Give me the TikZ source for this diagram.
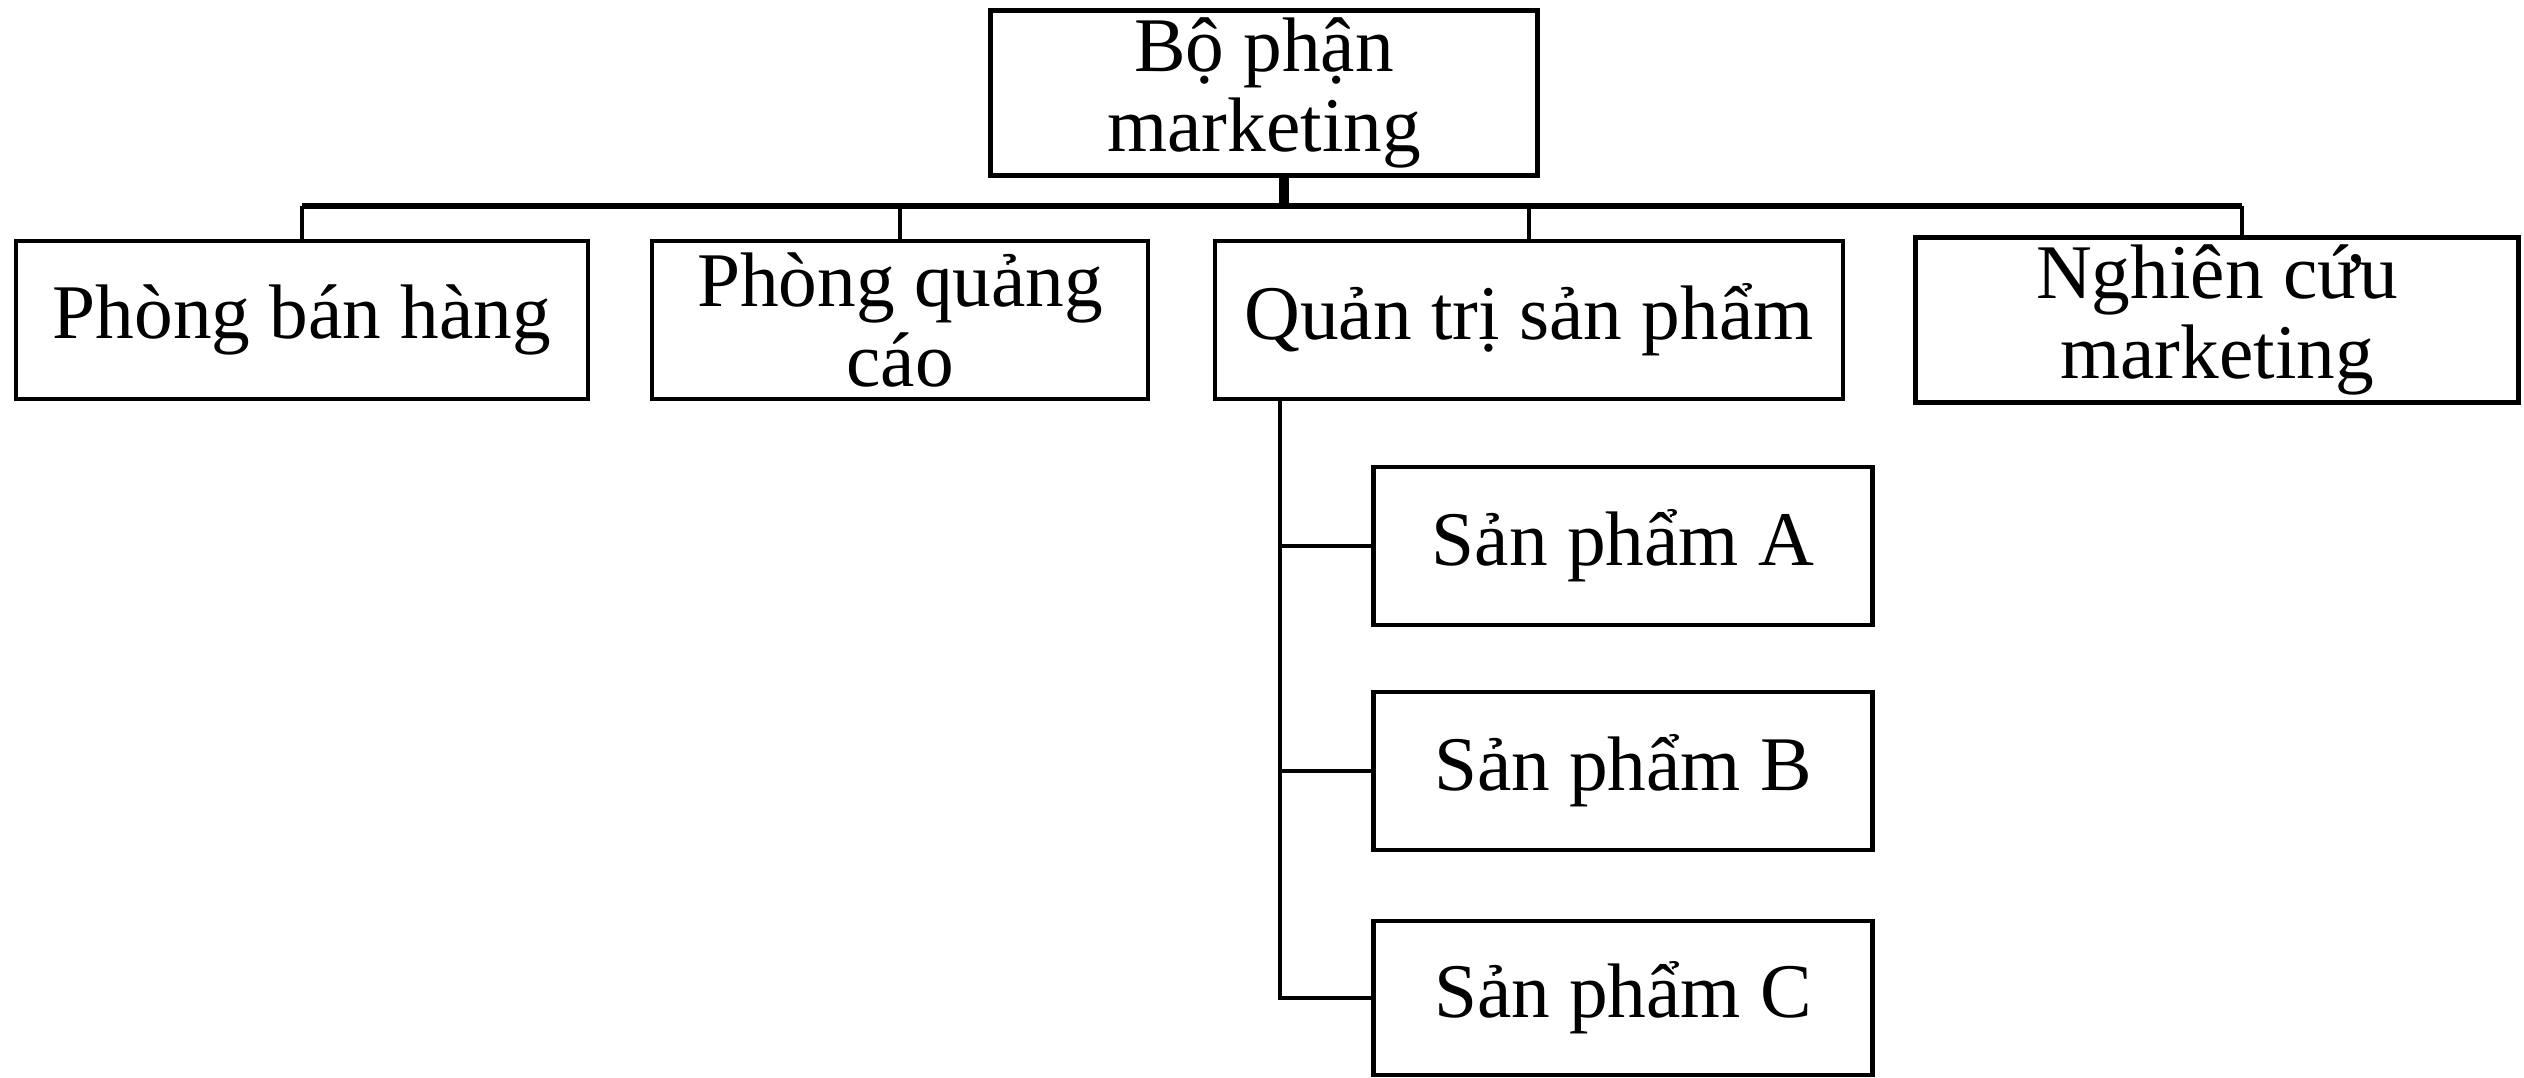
\documentclass[tikz,border=0pt]{standalone}
\usepackage{fontspec}
\setmainfont{Liberation Serif}
\tikzset{
    unit/.style={
        draw,
        line width=1.3pt,
        align=center,
        minimum height=1.58cm,
        inner sep=2pt,
        font=\fontsize{22}{23}\selectfont},
    link/.style={
        draw,
        line width=1.1pt}}

\begin{document}
\begin{tikzpicture}
    \useasboundingbox (0,0) rectangle (25.24,-10.78);
    \node[unit, minimum width=5.47cm, minimum height=1.61cm] (bp) at (12.64,-0.93) {Bộ phận\\marketing};
    \node[unit, minimum width=5.72cm] (pbh) at (3.02,-3.20) {Phòng bán hàng};
    \node[unit, minimum width=4.96cm] (pqc) at (9.00,-3.20) {Phòng quảng\\cáo};
    \node[unit, minimum width=6.28cm] (qtsp) at (15.29,-3.20) {Quản trị sản phẩm};
    \node[unit, minimum width=6.03cm] (ncm) at (22.17,-3.20) {Nghiên cứu\\marketing};
    \node[unit, minimum width=4.99cm] (spa) at (16.23,-5.46) {Sản phẩm A};
    \node[unit, minimum width=4.99cm] (spb) at (16.23,-7.71) {Sản phẩm B};
    \node[unit, minimum width=4.99cm, minimum height=1.54cm] (spc) at (16.23,-9.98) {Sản phẩm C};
    \coordinate (busl) at (3.02,-2.06);
    \coordinate (busr) at (22.42,-2.06);
    \coordinate (spine) at (12.80,-9.98);
    \draw[link, line width=2.6pt] ([xshift=0.2cm]bp.south) -- ([xshift=0.2cm]bp.south |- busl);
    \draw[link, line width=1.6pt] (busl) -- (busr);
    \draw[link] (busl) -- (pbh.north);
    \draw[link] (pqc.north |- busl) -- (pqc.north);
    \draw[link] (qtsp.north |- busl) -- (qtsp.north);
    \draw[link] (busr) -- (busr |- ncm.north);
    \draw[link] (qtsp.south -| spine) -- (spine) -- (spc.west);
    \draw[link] (spine |- spa.west) -- (spa.west);
    \draw[link] (spine |- spb.west) -- (spb.west);
\end{tikzpicture}
\end{document}
